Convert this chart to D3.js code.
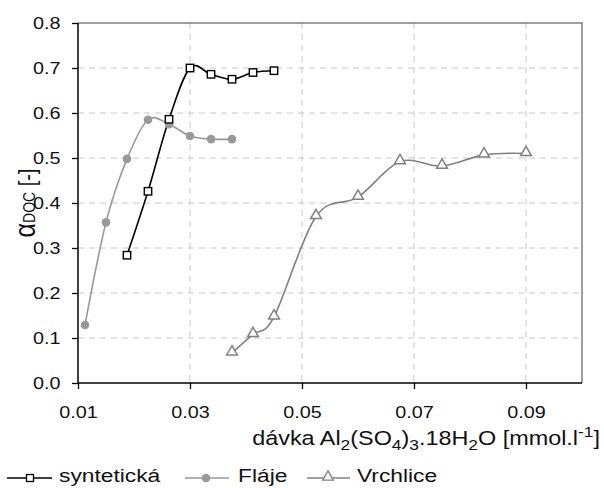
<!DOCTYPE html>
<html><head><meta charset="utf-8">
<script src="https://cdn.jsdelivr.net/npm/d3@7"></script>
<style>body{margin:0;background:#fff}svg{display:block;font-family:"Liberation Sans",Arial,sans-serif}</style>
</head><body><svg id="c" width="604" height="488"></svg>
<script>
const xTicks = [0.01, 0.03, 0.05, 0.07, 0.09];
const yTicks = [0.0, 0.1, 0.2, 0.3, 0.4, 0.5, 0.6, 0.7, 0.8];
const synX = [0.01875, 0.0225, 0.02625, 0.03, 0.03375, 0.0375, 0.04125, 0.045];
const synY = [0.284, 0.426, 0.586, 0.700, 0.686, 0.675, 0.690, 0.694];
const flaX = [0.01125, 0.015, 0.01875, 0.0225, 0.02625, 0.03, 0.03375, 0.0375];
const flaY = [0.129, 0.357, 0.498, 0.585, 0.575, 0.549, 0.542, 0.542];
const vrcX = [0.0375, 0.04125, 0.045, 0.0525, 0.06, 0.0675, 0.075, 0.0825, 0.09];
const vrcY = [0.067, 0.108, 0.147, 0.370, 0.413, 0.492, 0.482, 0.507, 0.510];
const seriesNames = ["syntetická", "Fláje", "Vrchlice"];

const SX = 1.2; // horizontal stretch of the text in the original picture
const svg = d3.select("#c");
const L = 78, R = 582, T = 23, B = 383;
const x = d3.scaleLinear().domain([0.01, 0.1]).range([L, R]);
const y = d3.scaleLinear().domain([0, 0.8]).range([B, T]);

// grid
const g = svg.append("g");
g.selectAll(".hg").data(yTicks.filter(v => v > 0 && v < 0.8)).join("line")
  .attr("x1", L).attr("x2", R).attr("y1", d => y(d)).attr("y2", d => y(d))
  .attr("stroke", "#c8c8c8").attr("stroke-width", 1).attr("stroke-dasharray", "6,5");
g.selectAll(".vg").data(xTicks.filter(v => v > 0.01)).join("line")
  .attr("y1", T).attr("y2", B).attr("x1", d => x(d)).attr("x2", d => x(d))
  .attr("stroke", "#c8c8c8").attr("stroke-width", 1).attr("stroke-dasharray", "6,5");
// border top/right
svg.append("path").attr("d", `M${L},${T}H${R}V${B}`).attr("fill", "none").attr("stroke", "#808080").attr("stroke-width", 1.5);

// axes
const yAxis = svg.append("g").attr("transform", `translate(${L},0)`)
  .call(d3.axisLeft(y).tickValues(yTicks).tickFormat(d3.format(".1f")).tickSize(6).tickPadding(8.6));
const xAxis = svg.append("g").attr("transform", `translate(0,${B})`)
  .call(d3.axisBottom(x).tickValues(xTicks).tickFormat(d3.format(".2f")).tickSize(6).tickPadding(17));
[yAxis, xAxis].forEach(a => {
  a.select(".domain").attr("stroke", "#000").attr("stroke-width", 1.5);
  a.selectAll(".tick line").attr("stroke", "#000").attr("stroke-width", 1.3);
  a.selectAll("text").attr("font-size", 16.5).attr("fill", "#111")
    .attr("font-family", "Liberation Sans, Arial, sans-serif").attr("transform", `scale(${SX},1)`);
});
xAxis.select(".domain").attr("d", `M${L},0H${R}`);
yAxis.select(".domain").attr("d", `M0,${T}V${B}`);

// curves
const curve = d3.curveCatmullRom.alpha(0);
const line = d3.line().x(d => x(d[0])).y(d => y(d[1])).curve(curve);
const syn = synX.map((v, i) => [v, synY[i]]);
const fla = flaX.map((v, i) => [v, flaY[i]]);
const vrc = vrcX.map((v, i) => [v, vrcY[i]]);

svg.append("path").attr("d", line(fla)).attr("fill", "none").attr("stroke", "#999").attr("stroke-width", 1.6);
svg.append("path").attr("d", line(vrc)).attr("fill", "none").attr("stroke", "#808080").attr("stroke-width", 1.6);
svg.append("path").attr("d", line(syn)).attr("fill", "none").attr("stroke", "#000").attr("stroke-width", 1.6);

const tri = d3.symbol().type(d3.symbolTriangle).size(50);
svg.selectAll(".vm").data(vrc).join("path")
  .attr("transform", d => `translate(${x(d[0])},${y(d[1]) - 1})`).attr("d", tri())
  .attr("fill", "#fff").attr("stroke", "#808080").attr("stroke-width", 1.5);
svg.selectAll(".fm").data(fla).join("circle")
  .attr("cx", d => x(d[0])).attr("cy", d => y(d[1])).attr("r", 4.3).attr("fill", "#999");
svg.selectAll(".sm").data(syn).join("rect")
  .attr("x", d => x(d[0]) - 3.7).attr("y", d => y(d[1]) - 3.7).attr("width", 7.4).attr("height", 7.4)
  .attr("fill", "#fff").attr("stroke", "#000").attr("stroke-width", 1.4);

// y label
const yl = svg.append("text").attr("transform", `translate(35,203) scale(${SX},1) rotate(-90)`).attr("text-anchor", "middle")
  .attr("font-size", 20).attr("fill", "#111");
yl.append("tspan").attr("font-size", 25).text("α");
yl.append("tspan").attr("font-size", 14).text("DOC");
yl.append("tspan").text(" [-]");

// x label
const xl = svg.append("text").attr("transform", `translate(600,445) scale(${SX},1)`).attr("text-anchor", "end").attr("font-size", 19.5).attr("fill", "#111");
const SUB = 14.5;
xl.append("tspan").text("dávka Al");
xl.append("tspan").attr("font-size", SUB).attr("dy", 5).text("2");
xl.append("tspan").attr("dy", -5).text("(SO");
xl.append("tspan").attr("font-size", SUB).attr("dy", 5).text("4");
xl.append("tspan").attr("dy", -5).text(")");
xl.append("tspan").attr("font-size", SUB).attr("dy", 5).text("3");
xl.append("tspan").attr("dy", -5).text(".18H");
xl.append("tspan").attr("font-size", SUB).attr("dy", 5).text("2");
xl.append("tspan").attr("dy", -5).text("O [mmol.l");
xl.append("tspan").attr("font-size", SUB).attr("dy", -8).text("-1");
xl.append("tspan").attr("dy", 8).text("]");

// legend
const ly = 478;
const leg = [
  {x1: 7, x2: 52, mx: 30, tx: 59, color: "#000"},
  {x1: 185, x2: 229, mx: 206, tx: 238, color: "#999"},
  {x1: 307, x2: 350, mx: 328, tx: 357, color: "#808080"}
];
leg.forEach((l, i) => {
  svg.append("line").attr("x1", l.x1).attr("x2", l.x2).attr("y1", ly).attr("y2", ly).attr("stroke", l.color).attr("stroke-width", 1.6);
  if (i === 0) svg.append("rect").attr("x", l.mx - 3.5).attr("y", ly - 3.5).attr("width", 7).attr("height", 7).attr("fill", "#fff").attr("stroke", "#000").attr("stroke-width", 1.3);
  if (i === 1) svg.append("circle").attr("cx", l.mx).attr("cy", ly).attr("r", 4.3).attr("fill", "#999");
  if (i === 2) svg.append("path").attr("transform", `translate(${l.mx},${ly - 1})`).attr("d", tri()).attr("fill", "#fff").attr("stroke", "#808080").attr("stroke-width", 1.4);
  svg.append("text").attr("transform", `translate(${l.tx},482) scale(${SX},1)`).attr("font-size", 19).attr("fill", "#111").text(seriesNames[i]);
});
</script></body></html>
